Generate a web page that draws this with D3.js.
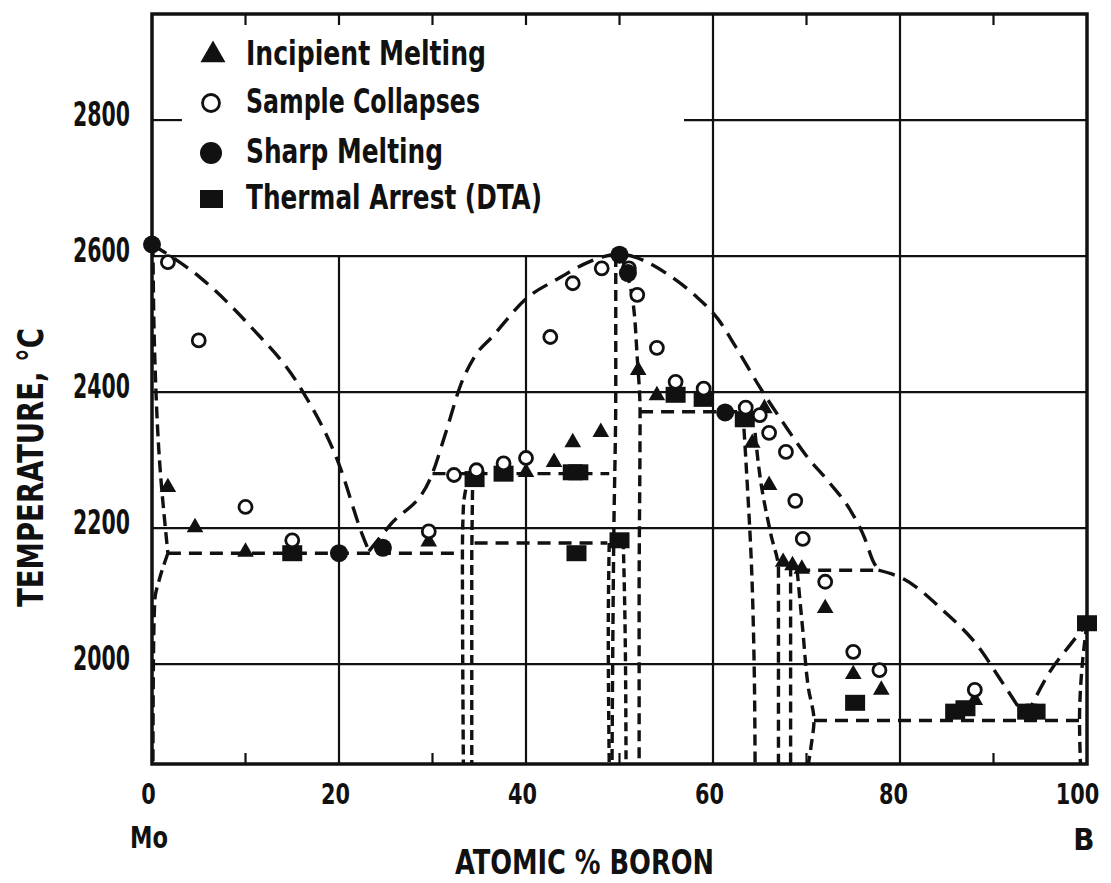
<!DOCTYPE html>
<html>
<head>
<meta charset="utf-8">
<script src="https://cdn.jsdelivr.net/npm/d3@7"></script>
<style>
  body { margin: 0; background: #fff; }
  svg text { font-family: "DejaVu Sans Condensed", "Liberation Sans Narrow", sans-serif; font-weight: bold; fill: #111; }
</style>
</head>
<body>
<svg id="chart" width="1111" height="883"></svg>
<script>
// ---- data (atomic % boron, temperature in C) ----
const xTicks = [0, 20, 40, 60, 80, 100];
const yTicks = [2000, 2200, 2400, 2600, 2800];
const legendLabels = ["Incipient Melting", "Sample Collapses", "Sharp Melting", "Thermal Arrest (DTA)"];

const incipientMelting = [
  [1.7, 2260], [4.6, 2201], [10, 2165], [29.6, 2180], [34.5, 2278], [40, 2282], [43, 2297],
  [45, 2326], [48, 2341], [52, 2432], [54, 2395], [59, 2395], [65.5, 2376], [64.2, 2325],
  [66, 2263], [67.5, 2150], [68.5, 2145], [69.5, 2140], [72, 2082], [75, 1985], [78, 1962], [88, 1947]
];
const sampleCollapses = [
  [1.7, 2591], [5, 2476], [10, 2231], [15, 2182], [29.6, 2195], [32.3, 2278], [34.7, 2285],
  [37.6, 2295], [40, 2303], [42.6, 2481], [45, 2560], [48.1, 2582], [51, 2582], [51.9, 2543],
  [54, 2465], [56, 2415], [59, 2405], [63.5, 2377], [65, 2366], [66, 2340], [67.8, 2312],
  [68.8, 2240], [69.6, 2184], [72, 2121], [75, 2018], [77.8, 1991], [88, 1962]
];
const sharpMelting = [[0, 2617], [20, 2163], [24.7, 2171], [50, 2602], [50.9, 2575], [61.3, 2370]];
const thermalArrest = [
  [15, 2163], [34.5, 2272], [37.6, 2280], [45, 2282], [45.6, 2282], [45.4, 2163], [50, 2182],
  [56, 2396], [59, 2390], [63.4, 2360], [75.2, 1943], [85.9, 1930], [87, 1935],
  [93.6, 1930], [94.5, 1930], [100, 2060]
];

// phase boundaries (dashed)
const liquidusLeft = [[0, 2617], [5.1, 2569], [10.5, 2497], [15.8, 2408], [20.1, 2290],
  [22.5, 2190], [23.2, 2166]];
const liquidusMid = [[23.2, 2166], [25.5, 2205], [29.8, 2274], [31.5, 2344], [33, 2410],
  [34.5, 2452], [36.5, 2483], [40, 2537], [43.6, 2568], [46.5, 2590], [50, 2603], [52.5, 2594],
  [55.5, 2570], [58, 2543], [60.5, 2508], [62.5, 2465], [65.1, 2405], [67.5, 2355], [70, 2306],
  [72.5, 2266], [74.7, 2226], [76.2, 2186], [77.1, 2152], [77.7, 2138]];
const liquidusRight = [[77.7, 2138], [80.4, 2125], [84.6, 2079], [88.4, 2025], [90.7, 1978],
  [92.6, 1938], [93.4, 1920]];
const liquidusB = [[93.4, 1920], [96, 1988], [98.3, 2030], [100, 2060]];
const moSolidus = [[0.1, 2617], [0.3, 2450], [0.8, 2300], [1.7, 2163]];
const moSolvus = [[1.7, 2163], [0.8, 2125], [0.3, 2095], [0.15, 2000], [0.1, 1853]];
const eutecticMo = [[1.7, 2163], [33.2, 2163]];
const peritecticMo2B = [[30, 2280], [48.9, 2280]];
const arrest2178 = [[34.5, 2178], [48.7, 2178]];
const mo2bLeft = [[33.9, 2278], [33.3, 2230], [33.2, 2163], [33.3, 1853]];
const mo2bRight = [[34.3, 2278], [34.2, 2163], [34.2, 1853]];
const mobLeft = [[49.6, 2600], [49.6, 2400], [49.4, 2200], [49.2, 1853]];
const mobInner1 = [[48.9, 2178], [48.8, 2050], [48.9, 1853]];
const mobInner2 = [[50.4, 2182], [50.6, 2050], [50.7, 1853]];
const mobRight = [[50.2, 2600], [51.3, 2545], [51.9, 2450], [52.2, 2371], [52.1, 2100], [52.1, 1853]];
const peritecticMoB2 = [[52.2, 2371], [63.2, 2371]];
const moB2Left = [[63.2, 2371], [63.6, 2280], [64.1, 2150], [64.4, 2000], [64.5, 1853]];
const moB2Right = [[64.5, 2340], [65.2, 2260], [66.2, 2190], [67, 2140], [67, 1853]];
const mo2b5Left = [[68.3, 2145], [68.3, 1853]];
const mo2b5Right = [[69, 2138], [69.6, 2050], [70.2, 1965], [70.8, 1917], [70.5, 1880], [70.2, 1853]];
const peritecticMo2B5 = [[69, 2138], [77.7, 2138]];
const eutecticB = [[70.8, 1917], [99.2, 1917]];
const bSolidus = [[100, 2060], [99.5, 2000], [99.2, 1917], [99.3, 1853]];

// ---- layout ----
const svg = d3.select('#chart');
const x = d3.scaleLinear().domain([0, 100]).range([152, 1087]);
const y = d3.scaleLinear().domain([1853, 2956]).range([764, 14]);

// grid
const grid = svg.append('g').attr('stroke', '#111').attr('stroke-width', 2.2);
[2000, 2200, 2400, 2600].forEach(t => {
  grid.append('line').attr('x1', x(0)).attr('x2', x(100)).attr('y1', y(t)).attr('y2', y(t));
});
grid.append('line').attr('x1', x(56.9)).attr('x2', x(100)).attr('y1', y(2800)).attr('y2', y(2800));
grid.append('line').attr('x1', x(0)).attr('x2', x(3.2)).attr('y1', y(2800)).attr('y2', y(2800));
[20, 40].forEach(v => {
  grid.append('line').attr('x1', x(v)).attr('x2', x(v)).attr('y1', y(1853)).attr('y2', y(2600));
  grid.append('line').attr('x1', x(v)).attr('x2', x(v)).attr('y1', y(2956)).attr('y2', y(2956) + 11);
});
[60, 80].forEach(v => {
  grid.append('line').attr('x1', x(v)).attr('x2', x(v)).attr('y1', y(1853)).attr('y2', y(2956));
});
[10, 30, 50, 70, 90].forEach(v => {
  grid.append('line').attr('x1', x(v)).attr('x2', x(v)).attr('y1', y(2956)).attr('y2', y(2956) + 11);
  grid.append('line').attr('x1', x(v)).attr('x2', x(v)).attr('y1', y(1853)).attr('y2', y(1853) - 11);
});

// frame
svg.append('rect')
  .attr('x', x(0)).attr('y', y(2956))
  .attr('width', x(100) - x(0)).attr('height', y(1853) - y(2956))
  .attr('fill', 'none').attr('stroke', '#111').attr('stroke-width', 3.5);

// dashed phase boundaries
const alongX = d3.line().x(d => x(d[0])).y(d => y(d[1])).curve(d3.curveMonotoneX);
const alongY = d3.line().x(d => x(d[0])).y(d => y(d[1])).curve(d3.curveMonotoneY);
const straight = d3.line().x(d => x(d[0])).y(d => y(d[1]));
const boundaries = [
  {pts: liquidusLeft, gen: alongX, dash: '17,9'},
  {pts: liquidusMid, gen: alongX, dash: '17,9'},
  {pts: liquidusRight, gen: alongX, dash: '17,9'},
  {pts: liquidusB, gen: alongX, dash: '17,9'},
  {pts: moSolidus, gen: alongY, dash: '12,6'},
  {pts: moSolvus, gen: alongY, dash: '12,6'},
  {pts: eutecticMo, gen: straight, dash: '13,8'},
  {pts: peritecticMo2B, gen: straight, dash: '13,8'},
  {pts: arrest2178, gen: straight, dash: '13,8'},
  {pts: mo2bLeft, gen: alongY, dash: '10,5'},
  {pts: mo2bRight, gen: straight, dash: '10,5'},
  {pts: mobLeft, gen: alongY, dash: '11,6'},
  {pts: mobInner1, gen: alongY, dash: '9,5'},
  {pts: mobInner2, gen: alongY, dash: '9,5'},
  {pts: mobRight, gen: alongY, dash: '11,6'},
  {pts: peritecticMoB2, gen: straight, dash: '13,8'},
  {pts: moB2Left, gen: alongY, dash: '11,6'},
  {pts: moB2Right, gen: alongY, dash: '11,6'},
  {pts: mo2b5Left, gen: straight, dash: '11,6'},
  {pts: mo2b5Right, gen: alongY, dash: '11,6'},
  {pts: peritecticMo2B5, gen: straight, dash: '13,8'},
  {pts: eutecticB, gen: straight, dash: '13,8'},
  {pts: bSolidus, gen: alongY, dash: '11,6'}
];
svg.append('g').selectAll('path')
  .data(boundaries)
  .join('path')
  .attr('d', d => d.gen(d.pts))
  .attr('fill', 'none')
  .attr('stroke', '#111')
  .attr('stroke-width', 3.4)
  .attr('stroke-dasharray', d => d.dash);

// markers
const marks = svg.append('g');
const tri = d3.symbol().type(d3.symbolTriangle);
marks.selectAll('.tri').data(incipientMelting).join('path')
  .attr('class', 'tri')
  .attr('d', tri.size(120)())
  .attr('transform', d => `translate(${x(d[0])},${y(d[1])})`)
  .attr('fill', '#111');
marks.selectAll('.sq').data(thermalArrest).join('rect')
  .attr('class', 'sq')
  .attr('x', d => x(d[0]) - 10).attr('y', d => y(d[1]) - 8)
  .attr('width', 20).attr('height', 16)
  .attr('fill', '#111');
marks.selectAll('.open').data(sampleCollapses).join('circle')
  .attr('class', 'open')
  .attr('cx', d => x(d[0])).attr('cy', d => y(d[1]))
  .attr('r', 6.5)
  .attr('fill', '#fff').attr('stroke', '#111').attr('stroke-width', 2.8);
marks.selectAll('.filled').data(sharpMelting).join('circle')
  .attr('class', 'filled')
  .attr('cx', d => x(d[0])).attr('cy', d => y(d[1]))
  .attr('r', 9)
  .attr('fill', '#111');

// legend
const legend = svg.append('g');
const legendY = [52, 100, 150, 196];
const legendWidth = [240, 234, 197, 296];
legend.append('path').attr('d', tri.size(270)()).attr('transform', `translate(213,${legendY[0] + 3})`).attr('fill', '#111');
legend.append('circle').attr('cx', 211).attr('cy', legendY[1] + 3).attr('r', 8.5)
  .attr('fill', '#fff').attr('stroke', '#111').attr('stroke-width', 2.8);
legend.append('circle').attr('cx', 211).attr('cy', legendY[2] + 3).attr('r', 11).attr('fill', '#111');
legend.append('rect').attr('x', 200).attr('y', legendY[3] - 6).attr('width', 23).attr('height', 18).attr('fill', '#111');
legend.selectAll('text').data(legendLabels).join('text')
  .attr('x', 246)
  .attr('y', (d, i) => legendY[i] + 13)
  .attr('font-size', 33)
  .attr('textLength', (d, i) => legendWidth[i])
  .attr('lengthAdjust', 'spacingAndGlyphs')
  .text(d => d);

// axes labels
const xAxis = d3.axisBottom(x).tickValues(xTicks).tickSize(0).tickPadding(20).tickFormat(d3.format('d'));
const xAxisG = svg.append('g').attr('transform', `translate(-4,${y(1853)})`).call(xAxis);
xAxisG.select('.domain').remove();
xAxisG.selectAll('text')
  .attr('font-size', 28)
  .attr('font-family', '"DejaVu Sans Condensed", sans-serif')
  .attr('fill', '#111')
  .attr('dx', d => d === 100 ? -6 : (d === 80 ? -3 : 0))
  .attr('textLength', d => String(d).length * 14.5)
  .attr('lengthAdjust', 'spacingAndGlyphs');

const yAxis = d3.axisLeft(y).tickValues(yTicks).tickSize(0).tickPadding(22).tickFormat(d3.format('d'));
const yAxisG = svg.append('g').attr('transform', `translate(${x(0)},-5)`).call(yAxis);
yAxisG.select('.domain').remove();
yAxisG.selectAll('text')
  .attr('font-size', 33)
  .attr('font-family', '"DejaVu Sans Condensed", sans-serif')
  .attr('fill', '#111')
  .attr('textLength', 57)
  .attr('lengthAdjust', 'spacingAndGlyphs');

svg.append('text').attr('x', 149).attr('y', 848).attr('text-anchor', 'middle')
  .attr('font-size', 30).attr('textLength', 38).attr('lengthAdjust', 'spacingAndGlyphs').text('Mo');
svg.append('text').attr('x', 1084).attr('y', 850).attr('text-anchor', 'middle')
  .attr('font-size', 31).text('B');
svg.append('text').attr('x', 455).attr('y', 874)
  .attr('font-size', 34).attr('textLength', 259).attr('lengthAdjust', 'spacingAndGlyphs')
  .text('ATOMIC % BORON');
svg.append('text')
  .attr('transform', 'translate(43,607) rotate(-90)')
  .attr('font-size', 36).attr('textLength', 279).attr('lengthAdjust', 'spacingAndGlyphs')
  .text('TEMPERATURE, °C');
</script>
</body>
</html>
